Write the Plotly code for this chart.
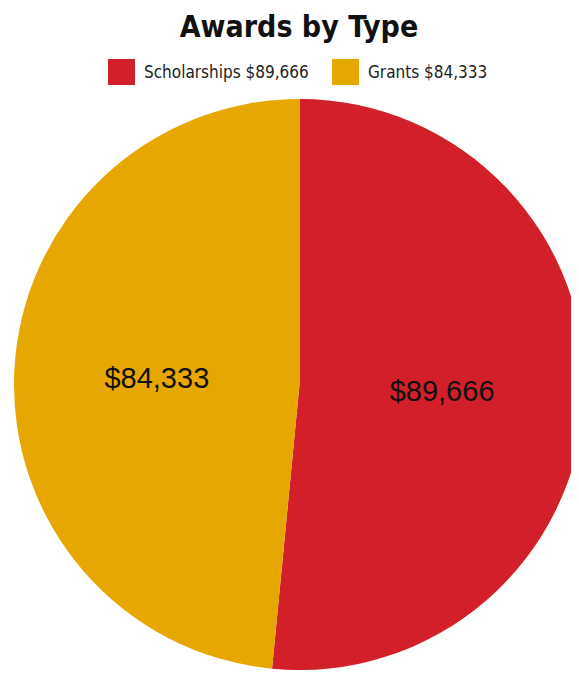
import plotly.graph_objects as go

labels = ["Scholarships", "Grants"]
values = [89666, 84333]
colors = ["#D31F2A", "#E6A800"]
title_text = "Awards by Type"

def money(v):
    return "${:,}".format(v)

texts = [money(v) for v in values]

# page body has an 8px default margin; figure coords = screen coords - 8
OFF = 8
W, H = 581, 665
L, T = 6, 91
PW, PH = 571, 571

fig = go.Figure()
fig.add_trace(go.Pie(
    labels=labels,
    values=values,
    text=texts,
    textinfo="text",
    textposition="inside",
    insidetextorientation="horizontal",
    textfont=dict(family="Liberation Sans, Arial, sans-serif", size=29, color="#111111"),
    marker=dict(colors=colors, line=dict(width=0)),
    sort=False,
    direction="clockwise",
    rotation=0,
    showlegend=False,
    hoverinfo="label+value",
))

def px_x(sx):
    return (sx - OFF - L) / PW

def px_y(sy):
    return 1 - (sy - OFF - T) / PH

legend_font = dict(family="DejaVu Sans Condensed, Liberation Sans Narrow, sans-serif", size=17, color="#222222")
legend_items = [
    dict(x0=108, text=f"{labels[0]} {money(values[0])}", color=colors[0]),
    dict(x0=332, text=f"{labels[1]} {money(values[1])}", color=colors[1]),
]
for it in legend_items:
    fig.add_shape(type="rect", xref="paper", yref="paper",
                  x0=px_x(it["x0"]), x1=px_x(it["x0"] + 27),
                  y0=px_y(85), y1=px_y(59),
                  fillcolor=it["color"], line=dict(width=0))
    fig.add_annotation(xref="paper", yref="paper",
                       x=px_x(it["x0"] + 34), y=px_y(72),
                       xanchor="left", yanchor="middle", showarrow=False,
                       text=it["text"], font=legend_font)

fig.update_layout(
    width=W, height=H,
    margin=dict(l=L, r=W - L - PW, t=T, b=H - T - PH),
    paper_bgcolor="white",
    title=dict(text=f"<b>{title_text}</b>", x=(299 - OFF) / W, xanchor="center",
               y=1 - (26 - OFF) / H, yanchor="middle",
               font=dict(family="DejaVu Sans Condensed, Liberation Sans Narrow, sans-serif", size=30, color="#111111")),
)

fig.write_html("out.html")
